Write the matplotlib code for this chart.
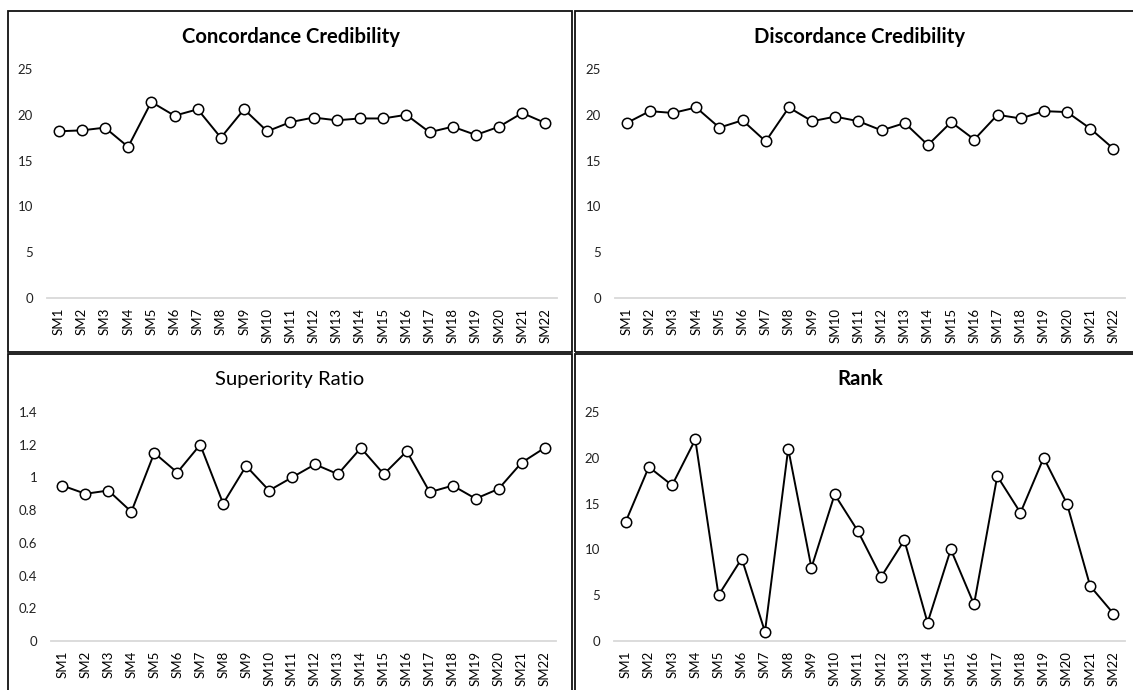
import matplotlib
matplotlib.use("Agg")
import matplotlib.pyplot as plt
from matplotlib.patches import Rectangle

categories = [f"SM{i}" for i in range(1, 23)]

concordance = [18.2, 18.3, 18.6, 16.5, 21.4, 19.9, 20.6, 17.5, 20.6, 18.2, 19.2,
               19.7, 19.4, 19.6, 19.6, 20.0, 18.1, 18.7, 17.8, 18.7, 20.2, 19.1]
discordance = [19.1, 20.4, 20.2, 20.8, 18.6, 19.4, 17.1, 20.8, 19.3, 19.8, 19.3,
               18.3, 19.1, 16.7, 19.2, 17.3, 20.0, 19.6, 20.4, 20.3, 18.5, 16.3]
superiority = [0.95, 0.90, 0.92, 0.79, 1.15, 1.03, 1.20, 0.84, 1.07, 0.92, 1.00,
               1.08, 1.02, 1.18, 1.02, 1.16, 0.91, 0.95, 0.87, 0.93, 1.09, 1.18]
rank = [13, 19, 17, 22, 5, 9, 1, 21, 8, 16, 12, 7, 11, 2, 10, 4, 18, 14, 20, 15, 6, 3]

W, H = 1133, 690
fig = plt.figure(figsize=(W / 100, H / 100), dpi=100)
fig.patch.set_facecolor("white")

FONT = "Lato"


def px_axes(x0, y0, x1, y1):
    return fig.add_axes([x0 / W, 1 - y1 / H, (x1 - x0) / W, (y1 - y0) / H])


def border(x0, y0, x1, y1):
    fig.patches.append(Rectangle((x0 / W, 1 - y1 / H), (x1 - x0) / W, (y1 - y0) / H,
                                 transform=fig.transFigure, fill=False,
                                 edgecolor="#111111", linewidth=1.3, zorder=0))


border(7.5, 11, 572, 351.5)
border(575, 11, 1150, 351.5)
border(7.5, 354, 572, 700)
border(575, 354, 1150, 700)

panels = [
    (concordance, "Concordance Credibility", True, (47, 69, 557, 298), (0, 25), [0, 5, 10, 15, 20, 25], None, (291, 37)),
    (discordance, "Discordance Credibility", True, (615, 69, 1125, 298), (0, 25), [0, 5, 10, 15, 20, 25], None, (860, 37)),
    (superiority, "Superiority Ratio", False, (51, 412, 556, 641), (0, 1.4),
     [0, 0.2, 0.4, 0.6, 0.8, 1.0, 1.2, 1.4], ["0", "0.2", "0.4", "0.6", "0.8", "1", "1.2", "1.4"], (290, 379)),
    (rank, "Rank", True, (614, 412, 1125, 641), (0, 25), [0, 5, 10, 15, 20, 25], None, (860, 379)),
]

x = list(range(len(categories)))
for vals, title, bold, box, ylim, yt, ytl, tpos in panels:
    ax = px_axes(*box)
    ax.plot(x, vals, color="black", linewidth=1.4, marker="o", markersize=7.5,
            markerfacecolor="white", markeredgecolor="black", markeredgewidth=1.1,
            clip_on=False, zorder=3)
    ax.set_xlim(-0.5, len(categories) - 0.5)
    ax.set_ylim(*ylim)
    ax.set_xticks(x)
    ax.set_xticklabels(categories, rotation=90, fontsize=9.5, family=FONT, color="black")
    ax.set_yticks(yt)
    if ytl is not None:
        ax.set_yticklabels(ytl)
    for lab in ax.get_yticklabels():
        lab.set_fontfamily(FONT)
        lab.set_fontsize(9.5)
        lab.set_color("#222222")
    ax.tick_params(axis="both", length=0)
    ax.tick_params(axis="y", pad=10)
    ax.tick_params(axis="x", pad=7)
    for s in ["top", "right", "left"]:
        ax.spines[s].set_visible(False)
    ax.spines["bottom"].set_color("#d9d9d9")
    ax.spines["bottom"].set_linewidth(1.3)
    ax.set_facecolor("none")
    fig.text(tpos[0] / W, 1 - tpos[1] / H, title, ha="center", va="center",
             fontsize=14.6, family=FONT, fontweight="bold" if bold else "normal",
             color="black")

fig.savefig("out.png", dpi=100, facecolor="white")
